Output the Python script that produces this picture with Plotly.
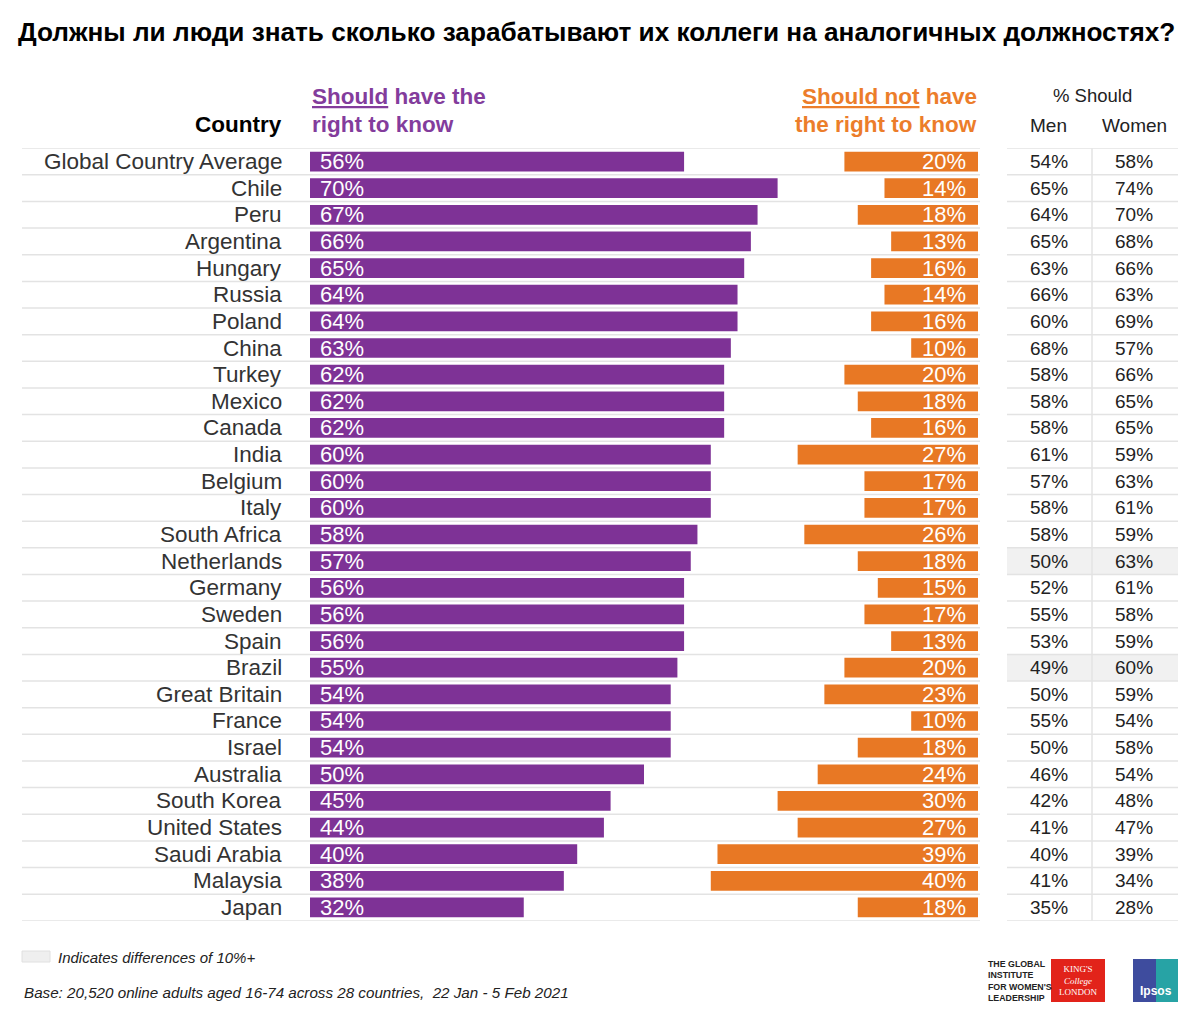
import plotly.graph_objects as go

countries = ["Global Country Average", "Chile", "Peru", "Argentina", "Hungary", "Russia",
             "Poland", "China", "Turkey", "Mexico", "Canada", "India", "Belgium", "Italy",
             "South Africa", "Netherlands", "Germany", "Sweden", "Spain", "Brazil",
             "Great Britain", "France", "Israel", "Australia", "South Korea",
             "United States", "Saudi Arabia", "Malaysia", "Japan"]
should = [56, 70, 67, 66, 65, 64, 64, 63, 62, 62, 62, 60, 60, 60, 58, 57, 56, 56, 56, 55,
          54, 54, 54, 50, 45, 44, 40, 38, 32]
should_not = [20, 14, 18, 13, 16, 14, 16, 10, 20, 18, 16, 27, 17, 17, 26, 18, 15, 17, 13, 20,
              23, 10, 18, 24, 30, 27, 39, 40, 18]
men = [54, 65, 64, 65, 63, 66, 60, 68, 58, 58, 58, 61, 57, 58, 58, 50, 52, 55, 53, 49,
       50, 55, 50, 46, 42, 41, 40, 41, 35]
women = [58, 74, 70, 68, 66, 63, 69, 57, 66, 65, 65, 59, 63, 61, 59, 63, 61, 58, 59, 60,
         59, 54, 58, 54, 48, 47, 39, 34, 28]
highlighted = ["Netherlands", "Brazil"]

OFF = 8  # page body margin
W, H = 1200 - OFF, 1012 - OFF
PURPLE = "#7E3296"
ORANGE = "#E87824"
HDR_PURPLE = "#833C9C"
HDR_ORANGE = "#EC7D2A"
FONT = "Liberation Sans, Arial, sans-serif"


def px(x):
    return (x - OFF) / W


def py(y):
    return 1 - (y - OFF) / H


n = len(countries)
fig = go.Figure()

fig.add_trace(go.Bar(
    y=countries, x=should, orientation="h", marker=dict(color=PURPLE, line=dict(width=0)),
    width=0.74, xaxis="x", yaxis="y", hoverinfo="x+y", showlegend=False))
fig.add_trace(go.Bar(
    y=countries, x=should_not, orientation="h", marker=dict(color=ORANGE, line=dict(width=0)),
    width=0.74, xaxis="x2", yaxis="y", hoverinfo="x+y", showlegend=False))

scale = 668  # px for 100%
fig.update_layout(
    width=W, height=H, margin=dict(l=0, r=0, t=0, b=0),
    paper_bgcolor="white", plot_bgcolor="rgba(0,0,0,0)",
    font=dict(family=FONT),
    xaxis=dict(domain=[px(310), px(310 + scale)], range=[0, 100], visible=False, fixedrange=True),
    xaxis2=dict(domain=[px(980 - scale), px(980)], range=[100, 0], visible=False,
                anchor="y", overlaying="x", fixedrange=True),
    yaxis=dict(domain=[py(920.8), py(148.2)], type="category", categoryarray=countries,
               range=[n - 0.5, -0.5], visible=False, fixedrange=True),
    bargap=0.26,
)

annotations = []
shapes = []

# highlighted cells
for c in highlighted:
    i = countries.index(c)
    shapes.append(dict(type="rect", xref="paper", yref="y", x0=px(1007), x1=px(1178),
                       y0=i - 0.5, y1=i + 0.5, fillcolor="#F1F1F1", line=dict(width=0),
                       layer="below"))

# row lines
for k in range(n + 1):
    yy = k - 0.5
    shapes.append(dict(type="line", xref="paper", yref="y", x0=px(22), x1=px(980),
                       y0=yy, y1=yy, line=dict(color="#E3E3E3", width=1.5), layer="below"))
    shapes.append(dict(type="line", xref="paper", yref="y", x0=px(1007), x1=px(1178),
                       y0=yy, y1=yy, line=dict(color="#E3E3E3", width=1.5), layer="below"))
# vertical divider in table
shapes.append(dict(type="line", xref="paper", yref="y", x0=px(1092), x1=px(1092),
                   y0=-0.5, y1=n - 0.5, line=dict(color="#E3E3E3", width=1.5), layer="below"))

for i, c in enumerate(countries):
    annotations.append(dict(x=px(284), y=c, xref="paper", yref="y", text=c, showarrow=False,
                            xanchor="right", yanchor="middle",
                            font=dict(size=22.5, color="#333333", family=FONT)))
    annotations.append(dict(x=0, y=c, xref="x", yref="y", text=f"{should[i]}%", showarrow=False,
                            xanchor="left", yanchor="middle", xshift=8,
                            font=dict(size=22, color="white", family=FONT)))
    annotations.append(dict(x=0, y=c, xref="x2", yref="y", text=f"{should_not[i]}%",
                            showarrow=False, xanchor="right", yanchor="middle", xshift=-10,
                            font=dict(size=22, color="white", family=FONT)))
    annotations.append(dict(x=px(1049), y=c, xref="paper", yref="y", text=f"{men[i]}%",
                            showarrow=False, xanchor="center", yanchor="middle",
                            font=dict(size=19, color="#222222", family=FONT)))
    annotations.append(dict(x=px(1134), y=c, xref="paper", yref="y", text=f"{women[i]}%",
                            showarrow=False, xanchor="center", yanchor="middle",
                            font=dict(size=19, color="#222222", family=FONT)))

# title
annotations.append(dict(x=px(596), y=py(32), xref="paper", yref="paper",
                        text="<b>Должны ли люди знать сколько зарабатывают их коллеги на аналогичных должностях?</b>",
                        showarrow=False, xanchor="center", yanchor="middle",
                        font=dict(size=26.2, color="black", family=FONT)))
# headers
annotations.append(dict(x=px(284), y=py(124), xref="paper", yref="paper", text="<b>Country</b>",
                        showarrow=False, xanchor="right", yanchor="middle",
                        font=dict(size=22.5, color="black", family=FONT)))
annotations.append(dict(x=px(310), y=py(96), xref="paper", yref="paper",
                        text="<b><u>Should</u> have the</b>", showarrow=False, xanchor="left",
                        yanchor="middle", font=dict(size=22.5, color=HDR_PURPLE, family=FONT)))
annotations.append(dict(x=px(310), y=py(124), xref="paper", yref="paper",
                        text="<b>right to know</b>", showarrow=False, xanchor="left",
                        yanchor="middle", font=dict(size=22.5, color=HDR_PURPLE, family=FONT)))
annotations.append(dict(x=px(979), y=py(96), xref="paper", yref="paper",
                        text="<b><u>Should not</u> have</b>", showarrow=False, xanchor="right",
                        yanchor="middle", font=dict(size=22.5, color=HDR_ORANGE, family=FONT)))
annotations.append(dict(x=px(979), y=py(124), xref="paper", yref="paper",
                        text="<b>the right to know</b>", showarrow=False, xanchor="right",
                        yanchor="middle", font=dict(size=22.5, color=HDR_ORANGE, family=FONT)))
annotations.append(dict(x=px(1092), y=py(95), xref="paper", yref="paper", text="% Should",
                        showarrow=False, xanchor="center", yanchor="middle",
                        font=dict(size=18.5, color="#222222", family=FONT)))
annotations.append(dict(x=px(1048), y=py(125), xref="paper", yref="paper", text="Men",
                        showarrow=False, xanchor="center", yanchor="middle",
                        font=dict(size=19, color="#222222", family=FONT)))
annotations.append(dict(x=px(1134), y=py(125), xref="paper", yref="paper", text="Women",
                        showarrow=False, xanchor="center", yanchor="middle",
                        font=dict(size=19, color="#222222", family=FONT)))

# footnotes
shapes.append(dict(type="rect", xref="paper", yref="paper", x0=px(22), x1=px(50),
                   y0=py(962), y1=py(951), fillcolor="#EFEFEF",
                   line=dict(color="#E0E0E0", width=1)))
annotations.append(dict(x=px(56), y=py(957), xref="paper", yref="paper",
                        text="<i>Indicates differences of 10%+</i>", showarrow=False,
                        xanchor="left", yanchor="middle",
                        font=dict(size=15, color="#222222", family=FONT)))
annotations.append(dict(x=px(22), y=py(992), xref="paper", yref="paper",
                        text="<i>Base: 20,520 online adults aged 16-74 across 28 countries,  22 Jan - 5 Feb 2021</i>",
                        showarrow=False, xanchor="left", yanchor="middle",
                        font=dict(size=15.2, color="#222222", family=FONT)))

# logos
annotations.append(dict(x=px(986), y=py(981), xref="paper", yref="paper",
                        text="<b>THE GLOBAL<br>INSTITUTE<br>FOR WOMEN'S<br>LEADERSHIP</b>",
                        showarrow=False, xanchor="left", yanchor="middle", align="left",
                        font=dict(size=8.8, color="#222222",
                                  family="Liberation Sans Narrow, Arial Narrow, sans-serif")))
shapes.append(dict(type="rect", xref="paper", yref="paper", x0=px(1051), x1=px(1105),
                   y0=py(1002), y1=py(959), fillcolor="#E2231A", line=dict(width=0)))
annotations.append(dict(x=px(1078), y=py(980), xref="paper", yref="paper",
                        text="KING'S<br><i>College</i><br>LONDON", showarrow=False,
                        xanchor="center", yanchor="middle",
                        font=dict(size=9, color="white", family="Liberation Serif, serif")))
shapes.append(dict(type="rect", xref="paper", yref="paper", x0=px(1133), x1=px(1156),
                   y0=py(1002), y1=py(959), fillcolor="#3E4C9E", line=dict(width=0)))
shapes.append(dict(type="rect", xref="paper", yref="paper", x0=px(1156), x1=px(1178),
                   y0=py(1002), y1=py(959), fillcolor="#27A3A5", line=dict(width=0)))
annotations.append(dict(x=px(1155.5), y=py(991), xref="paper", yref="paper",
                        text="<b>Ipsos</b>", showarrow=False, xanchor="center",
                        yanchor="middle", font=dict(size=12, color="white", family=FONT)))

fig.update_layout(annotations=annotations, shapes=shapes)
fig.write_html("out.html")
